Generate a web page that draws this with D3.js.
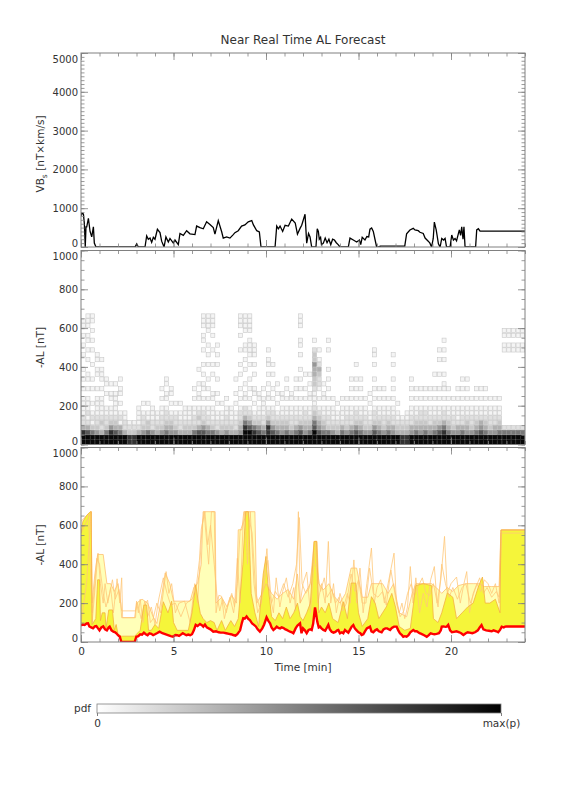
<!DOCTYPE html>
<html><head><meta charset="utf-8">
<script src="https://cdn.jsdelivr.net/npm/d3@7"></script>
<style>body{margin:0;background:#fff}svg text{font-family:"DejaVu Sans",sans-serif;fill:#333}</style>
</head><body>
<svg id="c" width="576" height="792"></svg>
<script>
// ---------- DATA ----------
const xMajorTicks = [0,5,10,15,20];
const vbsTicks = [0,1000,2000,3000,4000,5000];
const alTicks = [0,200,400,600,800,1000];

// top panel: V*Bs [nT x km/s] vs time [min]
const vbsData = [[0,800],[0.03,870],[0.13,850],[0.18,610],[0.23,0],[0.27,520],[0.31,520],[0.4,740],[0.49,400],[0.58,260],[0.67,520],[0.72,100],[0.81,0],[2.92,0],[3.01,80],[3.1,0],[3.46,0],[3.55,285],[3.64,200],[3.73,230],[3.82,120],[3.91,250],[4.0,200],[4.13,456],[4.27,370],[4.36,150],[4.49,0],[4.59,260],[4.72,130],[4.81,220],[4.99,100],[5.08,180],[5.26,60],[5.35,350],[5.53,300],[5.71,420],[5.89,340],[6.16,320],[6.25,540],[6.43,500],[6.61,470],[6.79,650],[6.97,580],[7.15,500],[7.24,330],[7.42,680],[7.6,400],[7.69,230],[7.87,260],[8.05,230],[8.23,320],[8.32,370],[8.5,420],[8.68,540],[8.86,570],[9.04,650],[9.23,680],[9.32,570],[9.5,420],[9.64,390],[9.73,0],[10.49,0],[10.58,540],[10.67,470],[10.76,540],[10.9,400],[11.03,560],[11.21,540],[11.39,720],[11.58,620],[11.7,330],[11.84,480],[11.93,560],[12.11,843],[12.2,100],[12.3,350],[12.38,260],[12.47,0],[12.7,0],[12.77,470],[12.83,400],[12.88,200],[12.95,250],[13.0,60],[13.1,100],[13.2,230],[13.3,110],[13.4,200],[13.5,60],[13.6,200],[13.7,180],[13.8,110],[13.9,60],[14.0,0],[14.45,0],[14.54,230],[14.72,180],[14.9,130],[15.05,180],[15.12,60],[15.2,250],[15.35,180],[15.45,270],[15.55,260],[15.62,460],[15.71,490],[15.8,400],[15.89,200],[15.98,0],[16.16,0],[16.17,25],[17.5,25],[17.6,340],[17.78,439],[17.96,480],[18.05,440],[18.23,420],[18.32,380],[18.5,350],[18.6,230],[18.77,150],[18.86,100],[18.95,0],[19.04,220],[19.1,640],[19.2,440],[19.32,80],[19.41,0],[19.5,220],[19.6,180],[19.68,220],[19.76,0],[19.95,0],[20.04,310],[20.13,180],[20.22,220],[20.3,160],[20.45,440],[20.52,300],[20.58,520],[20.65,200],[20.7,520],[20.76,0],[21.33,0],[21.39,440],[21.48,470],[21.57,410],[24,410]];

// middle panel: pdf of -AL. One string per 0.25-min column, one char per 25-nT bin (bottom up); '.' = empty, 1..9 = density
const heatColStep = 0.25, heatRowStep = 25;
const heatCols = [
"9984221111.1.1.1..1.1.1.11","9974212111.1.11..1.1.11.111","9963121.1..1.1..1..1.1.1.11","9953221111.1..11.11","9942321111.1.111.1",
"99632211..1.11","99853211.11.1","99743211111.1","9964121.1.11.1","9942211",
"88321","88321","99421111","9953221.1","9963311.1",
"99522111","9943211","99532211.1.1","99643221.11.11","9954321.1.11",
"9953221.1","9942211.1","99432111","99432111","99632211.1.1",
"99742321.11.1..1","99753221.1.11.1.1..1.11.111","99642211.1.1.1..1.1.1..1111","99632111.11...1.1..1..1.111","9952211.1.1..1..1.1.1",
"9943211.1","99532211.1","99432111","9942211.1.1..1","99543221.1.1..1.1..1..1.111",
"99986422.11.1..1.1.11..1111","99975321.1.1.1..1.1111.1111","9986321.1.11..1.1.111","99753211.11","9964221111.1",
"99885321.11.1.1.11.1","99753221.1.1..1.1","9964321.1.1.1","99543211.11","99643211.1.1.1",
"99532211.11","99642211.1.1.1","99753211.1.1.1.1..1.11..111","99543221.1.1..1","99643211.11.1.1",
"99976432111233445332.1","99754321.1.1223421.1","99643211.11.1","99632211.1.1.1.1...1.1","99532111.1",
"9943211.1","99642111.1","99532211.1","99642211.1.1.1","99753221.1.1.1..1",
"99643211.1.1.1","99532211.1","9953211.1.1","99753221.1.1.1..1.11","99643211.1.1",
"99532211.1.1","99643211.1","99542211.1.1.1..1.1","9943211.1","884321",
"8843211","99542211.1.1.1","99643211.1.1","99543221.1.1","99643221.1.1",
"99542211.1.1","99643211.1.1..1","99753211.1.1..1..1.1","99864221.1.11.1..1.1.1","99643211.1.1",
"99532211.1","99542111.1.1","99642211.1.1.1","99543211.1.1.1","99532211.1",
"99643211.1.1","99754211.1.1","99643211.1.1","99532211.1","99542211.1",
"99643211.1","9962...............11.11","9962...............11.11","9962...............11.11","9962...............11.11",
"9962...............11.11"];

// bottom panel: forecast -AL summary
const alMedian = [[0,85],[0.1,90],[0.2,88],[0.3,95],[0.38,96],[0.45,80],[0.55,75],[0.65,70],[0.75,80],[0.83,82],[0.92,70],[1.0,60],[1.1,75],[1.2,80],[1.3,65],[1.4,60],[1.5,75],[1.55,79],[1.65,60],[1.75,53],[1.85,50],[1.91,45],[2.0,35],[2.1,27],[2.18,0],[2.9,0],[2.99,27],[3.1,30],[3.2,40],[3.3,38],[3.4,48],[3.5,40],[3.6,35],[3.7,45],[3.8,42],[3.9,35],[4.0,40],[4.1,45],[4.25,53],[4.4,45],[4.55,40],[4.7,35],[4.85,30],[4.97,27],[5.1,36],[5.2,35],[5.3,31],[5.4,38],[5.5,45],[5.6,40],[5.7,35],[5.8,38],[5.9,35],[6.0,40],[6.1,60],[6.2,88],[6.3,82],[6.43,93],[6.55,85],[6.61,79],[6.7,90],[6.8,75],[6.9,70],[7.0,65],[7.15,53],[7.3,55],[7.45,50],[7.55,48],[7.7,48],[7.85,45],[8.0,42],[8.1,40],[8.23,36],[8.35,33],[8.45,40],[8.6,60],[8.7,100],[8.77,122],[8.85,120],[8.95,131],[9.05,118],[9.13,113],[9.25,95],[9.35,88],[9.45,80],[9.55,65],[9.67,53],[9.8,70],[9.9,90],[10.03,127],[10.12,110],[10.22,96],[10.3,75],[10.4,62],[10.5,70],[10.58,79],[10.67,72],[10.76,70],[10.85,75],[10.95,72],[11.05,65],[11.12,62],[11.2,58],[11.3,53],[11.4,50],[11.48,45],[11.6,70],[11.7,85],[11.84,96],[11.92,45],[12.0,70],[12.1,60],[12.2,45],[12.3,62],[12.4,65],[12.47,62],[12.55,95],[12.65,178],[12.7,150],[12.77,105],[12.85,75],[12.92,79],[13.0,70],[13.1,62],[13.2,58],[13.3,75],[13.37,88],[13.45,65],[13.55,53],[13.65,48],[13.75,52],[13.85,60],[13.91,62],[14.0,45],[14.1,50],[14.18,45],[14.27,62],[14.35,55],[14.45,48],[14.55,65],[14.63,79],[14.72,87],[14.8,70],[14.9,60],[15.0,50],[15.1,45],[15.17,36],[15.26,40],[15.35,55],[15.45,70],[15.55,75],[15.62,79],[15.7,55],[15.8,50],[15.9,60],[16.0,65],[16.1,55],[16.25,50],[16.35,65],[16.45,70],[16.55,70],[16.71,62],[16.8,72],[16.92,79],[17.06,79],[17.15,60],[17.24,45],[17.35,35],[17.42,27],[17.5,30],[17.6,27],[17.7,35],[17.8,50],[17.96,62],[18.05,55],[18.15,55],[18.3,45],[18.4,42],[18.55,35],[18.69,27],[18.8,35],[18.9,45],[19.0,42],[19.1,40],[19.22,42],[19.35,45],[19.45,60],[19.5,79],[19.59,80],[19.7,78],[19.77,79],[19.85,88],[19.95,60],[20.05,50],[20.15,52],[20.3,55],[20.45,50],[20.55,45],[20.67,36],[20.8,45],[20.9,50],[21.0,48],[21.15,45],[21.3,50],[21.45,60],[21.55,75],[21.65,87],[21.75,65],[21.9,60],[22.05,58],[22.2,55],[22.3,60],[22.45,55],[22.55,50],[22.65,62],[22.74,79],[22.85,75],[22.92,79],[23.0,80],[24,80]];
const alBright = [[0,560],[0.1,620],[0.3,650],[0.5,670],[0.55,670],[0.6,90],[0.8,120],[0.9,320],[1.0,320],[1.05,110],[1.15,150],[1.3,150],[1.35,70],[1.5,165],[1.7,165],[1.8,60],[1.9,90],[2.0,40],[2.18,30],[2.9,30],[3.0,40],[3.2,60],[3.4,190],[3.55,190],[3.65,60],[3.8,60],[4.0,90],[4.2,70],[4.45,207],[4.7,150],[4.9,210],[5.0,100],[5.2,60],[5.5,60],[5.8,60],[6.0,150],[6.2,294],[6.35,200],[6.45,147],[6.6,120],[6.8,100],[7.0,110],[7.2,100],[7.35,60],[7.6,110],[7.8,60],[8.1,110],[8.3,80],[8.5,120],[8.75,400],[8.9,670],[9.05,670],[9.2,250],[9.4,150],[9.6,80],[9.85,350],[10.0,440],[10.1,300],[10.3,130],[10.5,110],[10.7,150],[10.9,120],[11.1,180],[11.3,120],[11.5,150],[11.7,200],[11.85,130],[12.0,110],[12.2,150],[12.4,200],[12.6,517],[12.74,517],[12.85,150],[13.0,180],[13.2,150],[13.4,200],[13.6,120],[13.9,100],[14.18,207],[14.4,120],[14.6,303],[14.85,303],[15.0,150],[15.2,80],[15.5,120],[15.7,233],[15.9,200],[16.1,120],[16.3,150],[16.5,180],[16.8,250],[17.0,180],[17.2,80],[17.5,60],[17.8,70],[18.1,290],[18.5,300],[18.95,290],[19.05,120],[19.3,100],[19.5,150],[19.8,252],[20.1,230],[20.3,120],[20.6,150],[20.9,180],[21.2,200],[21.5,290],[21.7,334],[21.85,200],[22.1,200],[22.4,220],[22.65,150],[22.7,576],[24,576]];
const alPale = [[0,560],[0.55,670],[0.6,200],[0.75,350],[0.9,450],[1.2,450],[1.4,300],[1.6,300],[1.8,260],[2.0,300],[2.15,200],[2.2,125],[2.9,125],[3.0,200],[3.3,220],[3.6,200],[3.9,130],[4.1,95],[4.3,200],[4.55,355],[4.8,300],[5.0,210],[5.9,210],[6.1,280],[6.3,300],[6.5,400],[6.6,670],[7.25,670],[7.3,200],[7.6,230],[7.9,180],[8.15,240],[8.4,200],[8.5,577],[8.7,577],[8.8,670],[9.4,670],[9.5,200],[9.8,250],[10.0,300],[10.3,250],[10.6,220],[10.9,250],[11.2,270],[11.5,220],[11.7,350],[11.85,200],[12.1,250],[12.4,300],[12.6,517],[12.75,517],[12.85,300],[13.1,268],[13.4,300],[13.7,233],[14.0,200],[14.3,250],[14.6,380],[14.9,380],[15.2,230],[15.5,230],[15.7,300],[16.0,300],[16.3,300],[16.6,250],[16.9,300],[17.2,150],[17.6,130],[17.9,250],[18.1,300],[18.5,300],[18.95,300],[19.2,280],[19.5,250],[19.8,280],[20.1,260],[20.4,290],[20.8,300],[21.2,300],[21.5,300],[21.8,285],[22.2,285],[22.6,285],[22.7,576],[24,576]];
const alMember1 = [[0,100],[0.3,300],[0.55,670],[0.6,100],[0.92,457],[1.05,300],[1.2,200],[1.3,300],[1.45,200],[1.6,280],[1.75,150],[1.95,325],[2.1,200],[2.2,330],[2.25,125],[2.95,125],[3.0,210],[3.1,150],[3.2,220],[3.35,100],[3.5,200],[3.6,215],[3.75,100],[3.9,120],[4.1,200],[4.3,150],[4.6,362],[4.75,250],[4.9,300],[5.1,150],[5.3,200],[5.6,210],[5.9,100],[6.15,300],[6.3,200],[6.55,600],[6.65,670],[6.9,400],[7.05,670],[7.2,670],[7.3,150],[7.45,240],[7.6,235],[7.75,120],[7.95,200],[8.15,250],[8.3,180],[8.45,430],[8.6,200],[8.75,580],[8.85,670],[9.0,400],[9.15,670],[9.35,300],[9.55,150],[9.75,200],[10.05,480],[10.2,250],[10.4,150],[10.55,330],[10.75,180],[10.9,260],[11.1,330],[11.3,200],[11.5,280],[11.6,160],[11.75,670],[11.85,200],[12.0,300],[12.2,360],[12.4,150],[12.55,350],[12.7,520],[12.8,200],[13.0,300],[13.2,200],[13.37,517],[13.5,200],[13.65,300],[13.8,150],[14.0,250],[14.2,180],[14.4,250],[14.55,200],[14.75,422],[14.9,200],[15.08,380],[15.25,150],[15.45,300],[15.7,483],[15.85,200],[16.0,280],[16.2,320],[16.4,200],[16.6,300],[16.92,457],[17.05,200],[17.2,150],[17.35,200],[17.5,120],[17.65,180],[17.8,388],[17.95,200],[18.1,330],[18.3,150],[18.5,250],[18.7,180],[18.9,320],[19.1,388],[19.25,200],[19.45,320],[19.65,543],[19.8,250],[20.0,300],[20.3,334],[20.5,200],[20.7,300],[20.85,362],[21.0,150],[21.2,250],[21.4,300],[21.6,260],[21.8,320],[22.0,300],[22.2,250],[22.4,300],[22.6,200],[22.74,576],[24,576]];
const alMember2 = [[0,620],[0.4,660],[0.6,150],[0.75,300],[0.85,430],[1.0,400],[1.2,250],[1.35,180],[1.55,250],[1.7,320],[1.85,220],[2.05,270],[2.2,160],[2.95,160],[3.05,200],[3.25,120],[3.45,210],[3.6,130],[3.8,180],[4.0,90],[4.2,220],[4.45,330],[4.65,250],[4.85,190],[5.1,200],[5.4,130],[5.7,200],[6.0,220],[6.2,260],[6.4,420],[6.5,580],[6.7,670],[6.85,500],[7.0,600],[7.2,400],[7.35,240],[7.5,160],[7.65,220],[7.85,150],[8.05,230],[8.25,150],[8.45,300],[8.6,570],[8.8,620],[9.0,670],[9.25,560],[9.45,250],[9.65,180],[9.9,300],[10.1,420],[10.3,200],[10.5,260],[10.7,230],[10.95,300],[11.2,230],[11.45,300],[11.65,400],[11.8,640],[11.95,300],[12.15,250],[12.35,280],[12.55,420],[12.75,380],[12.95,260],[13.15,330],[13.3,230],[13.55,270],[13.75,200],[13.95,230],[14.15,160],[14.35,200],[14.6,350],[14.8,260],[15.0,320],[15.2,200],[15.4,200],[15.6,380],[15.8,250],[16.05,230],[16.3,260],[16.5,190],[16.75,370],[17.0,230],[17.25,130],[17.45,160],[17.65,250],[17.85,300],[18.0,240],[18.2,280],[18.45,330],[18.65,250],[18.85,240],[19.05,300],[19.3,180],[19.5,400],[19.7,300],[19.9,230],[20.1,280],[20.35,220],[20.6,280],[20.8,300],[21.05,200],[21.3,270],[21.55,330],[21.75,250],[21.95,280],[22.2,230],[22.45,260],[22.6,230],[22.7,560],[24,560]];

// ---------- DRAW ----------
const svg = d3.select("#c");
const X0 = 81, X1 = 525;
const x = d3.scaleLinear().domain([0,24]).range([X0,X1]);
const panels = [
  {y: d3.scaleLinear().domain([0,5000]).range([247,53]), major: vbsTicks, minorStep:100},
  {y: d3.scaleLinear().domain([0,1000]).range([444.5,250.5]), major: alTicks, minorStep:50},
  {y: d3.scaleLinear().domain([0,1000]).range([642,447.5]), major: alTicks, minorStep:50}
];
const axisCol = "#808080";
const xMinor = d3.range(0,25,1);

panels.forEach((p,i)=>{
  const [yb, yt] = p.y.range();
  svg.append("clipPath").attr("id","clip"+i).append("rect")
    .attr("x",X0).attr("y",yt).attr("width",X1-X0).attr("height",yb-yt);
  p.g = svg.append("g").attr("clip-path",`url(#clip${i})`);
});

// top panel line
panels[0].g.append("path").datum(vbsData)
  .attr("d", d3.line().x(d=>x(d[0])).y(d=>panels[0].y(d[1])))
  .attr("fill","none").attr("stroke","#000").attr("stroke-width",1.3);

// heatmap
const grayLevels = [255,244,224,200,176,150,120,88,50,8];
const gray = l => { const v = grayLevels[l]; return `rgb(${v},${v},${v})`; };
const cells = [];
heatCols.forEach((s,ci)=>{ for(let k=0;k<s.length;k++){ const ch=s[k]; if(ch!=='.') cells.push({c:ci,r:k,l:+ch}); }});
const y2 = panels[1].y;
panels[1].g.selectAll("rect.cell").data(cells).join("rect").attr("class","cell")
  .attr("x",d=>x(d.c*heatColStep)+0.3).attr("width",d=>x((d.c+1)*heatColStep)-x(d.c*heatColStep)-0.6)
  .attr("y",d=>y2((d.r+1)*heatRowStep)+0.3).attr("height",d=>y2(d.r*heatRowStep)-y2((d.r+1)*heatRowStep)-0.6)
  .attr("fill",d=>gray(d.l))
  .attr("stroke",d=>d.l<=2?"#c8c8c8":gray(d.l)).attr("stroke-width",0.6);

// bottom panel
const y3 = panels[2].y;
const g3 = panels[2].g;
const areaF = d3.area().x(d=>x(d[0])).y0(y3(0)).y1(d=>y3(d[1]));
const lineF = d3.line().x(d=>x(d[0])).y(d=>y3(d[1]));
g3.append("path").datum(alPale).attr("d",areaF).attr("fill","#ffffb8");
g3.append("path").datum(alBright).attr("d",areaF).attr("fill","#f5f53a");
g3.append("path").datum(alMedian).attr("d",areaF).attr("fill","#fff");
[alMember2, alMember1].forEach(s=>g3.append("path").datum(s).attr("d",lineF)
  .attr("fill","none").attr("stroke","#ffc878").attr("stroke-width",0.8));
g3.append("path").datum(alPale).attr("d",lineF).attr("fill","none").attr("stroke","#ffc070").attr("stroke-width",0.8);
g3.append("path").datum(alBright).attr("d",lineF).attr("fill","none").attr("stroke","#f5b040").attr("stroke-width",0.8);
g3.append("path").datum(alMedian).attr("d",lineF).attr("fill","none").attr("stroke","#ff0000").attr("stroke-width",2.4);

// axes
const fmt = d3.format("d");
panels.forEach((p,i)=>{
  const [yb, yt] = p.y.range();
  const [d0, d1] = p.y.domain();
  const yMinor = d3.range(d0, d1+1, p.minorStep);
  const mk = (axisFn, scale, vals, size, pos, labels) => {
    const a = axisFn(scale).tickValues(vals).tickSizeInner(-size).tickSizeOuter(0).tickPadding(4);
    a.tickFormat(labels ? fmt : "");
    const g = svg.append("g").attr("transform",pos).call(a);
    g.select(".domain").remove();
    g.selectAll("line").attr("stroke",axisCol).attr("stroke-width",0.8);
    g.selectAll("text").attr("font-size",10).attr("fill","#333").attr("font-family","DejaVu Sans");
    return g;
  };
  const gl = mk(d3.axisLeft, p.y, p.major, 7, `translate(${X0},0)`, true);
  gl.selectAll("text").attr("x",-3)
    .attr("dy", d => d===d0 ? "-0.05em" : d===d1 ? "0.9em" : "0.35em");
  mk(d3.axisLeft, p.y, yMinor, 3.5, `translate(${X0},0)`, false);
  mk(d3.axisRight, p.y, p.major, 7, `translate(${X1},0)`, false);
  mk(d3.axisRight, p.y, yMinor, 3.5, `translate(${X1},0)`, false);
  const gb = mk(d3.axisBottom, x, xMajorTicks, 7, `translate(0,${yb})`, i===2);
  if(i===2) gb.selectAll("text").attr("dy","0.71em").attr("y",6).attr("font-size",10.5);
  mk(d3.axisBottom, x, xMinor, 3.5, `translate(0,${yb})`, false);
  mk(d3.axisTop, x, xMajorTicks, 7, `translate(0,${yt})`, false);
  mk(d3.axisTop, x, xMinor, 3.5, `translate(0,${yt})`, false);
  svg.append("rect").attr("x",X0).attr("y",yt).attr("width",X1-X0).attr("height",yb-yt)
    .attr("fill","none").attr("stroke",axisCol).attr("stroke-width",1);
});

// texts
svg.append("text").attr("x",303).attr("y",44).attr("text-anchor","middle").attr("font-size",12)
  .text("Near Real Time AL Forecast");
const yl1 = svg.append("text").attr("transform","translate(44,154) rotate(-90)").attr("text-anchor","middle").attr("font-size",10.5);
yl1.append("tspan").text("VB");
yl1.append("tspan").attr("font-size",7.5).attr("dy",3).text("s");
yl1.append("tspan").attr("dy",-3).text(" [nT\u00d7km/s]");
[347.5, 545].forEach(cy=>svg.append("text").attr("transform",`translate(44,${cy}) rotate(-90)`)
  .attr("text-anchor","middle").attr("font-size",10.5).text("-AL [nT]"));
svg.append("text").attr("x",303).attr("y",671).attr("text-anchor","middle").attr("font-size",10.5).text("Time [min]");

// colorbar
const grad = svg.append("defs").append("linearGradient").attr("id","gb");
grad.append("stop").attr("offset","0%").attr("stop-color","#fff");
grad.append("stop").attr("offset","100%").attr("stop-color","#000");
const cb = d3.scaleLinear().domain([0,1]).range([97,501]);
svg.append("rect").attr("x",cb(0)).attr("y",704).attr("width",cb(1)-cb(0)).attr("height",9)
  .attr("fill","url(#gb)").attr("stroke",axisCol).attr("stroke-width",0.8);
const cbAxis = d3.axisBottom(cb).tickValues([0,1]).tickSize(3).tickFormat((d,i)=>["0","max(p)"][i]).tickPadding(4);
const gcb = svg.append("g").attr("transform","translate(0,713)").call(cbAxis);
gcb.select(".domain").remove();
gcb.selectAll("line").attr("stroke",axisCol);
gcb.selectAll("text").attr("font-size",10.5).attr("fill","#333").attr("font-family","DejaVu Sans");
svg.append("text").attr("x",91).attr("y",712).attr("text-anchor","end").attr("font-size",10.5).text("pdf");
</script>
</body></html>
